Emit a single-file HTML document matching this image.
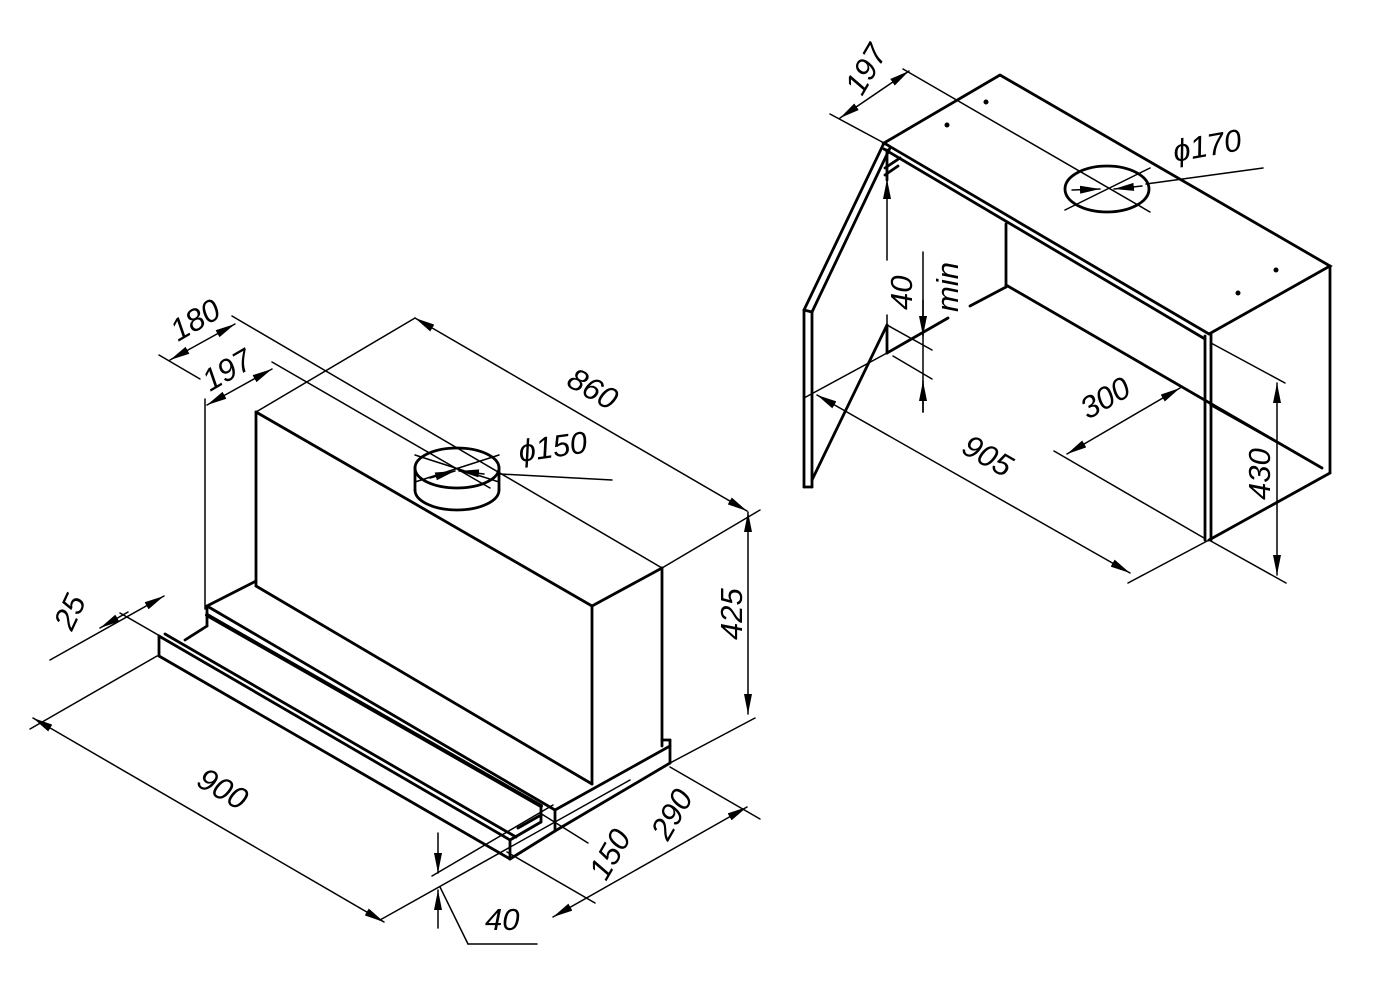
<!DOCTYPE html>
<html><head><meta charset="utf-8"><style>
html,body{margin:0;padding:0;background:#fff;}
svg{display:block;}
text{font-family:"Liberation Sans",sans-serif;font-size:31px;fill:#000;font-style:italic;}
</style></head><body>
<svg width="1400" height="990" viewBox="0 0 1400 990" xmlns="http://www.w3.org/2000/svg">
<defs>
<marker id="a" viewBox="0 0 20 8" refX="20" refY="4" markerWidth="20" markerHeight="8" orient="auto-start-reverse" markerUnits="userSpaceOnUse"><path d="M0,0 L20,4 L0,8 Z" fill="#000"/></marker>
</defs>
<g stroke="#000" fill="none" stroke-linecap="round">
<g stroke-width="2.8">
<line x1="256" y1="412" x2="592" y2="606"/>
<line x1="256" y1="412" x2="256" y2="586"/>
<line x1="592" y1="606" x2="592" y2="784"/>
<line x1="592" y1="606" x2="662" y2="568"/>
<line x1="662" y1="568" x2="662" y2="746"/>
<line x1="256" y1="586" x2="592" y2="784"/>
<line x1="207" y1="606" x2="256" y2="581"/>
<line x1="207" y1="606" x2="555" y2="810"/>
<line x1="207" y1="606" x2="207" y2="626"/>
<line x1="555" y1="810" x2="670" y2="746"/>
<line x1="662" y1="740" x2="670" y2="740"/>
<line x1="670" y1="740" x2="670" y2="763"/>
<line x1="555" y1="810" x2="555" y2="831"/>
<line x1="555" y1="831" x2="670" y2="763"/>
<line x1="207" y1="615" x2="541" y2="806" stroke-width="4"/>
<line x1="207" y1="626" x2="185" y2="640"/>
<line x1="159" y1="636" x2="510" y2="840"/>
<line x1="165" y1="634" x2="516" y2="837"/>
<line x1="159" y1="656" x2="510" y2="859"/>
<line x1="159" y1="636" x2="159" y2="656"/>
<line x1="510" y1="840" x2="510" y2="859"/>
<line x1="510" y1="840" x2="541" y2="822"/>
<line x1="541" y1="806" x2="541" y2="822"/>
<line x1="518" y1="828" x2="541" y2="815"/>
<line x1="510" y1="859" x2="555" y2="831"/>
<ellipse cx="457" cy="468" rx="42" ry="20"/>
<line x1="415" y1="468" x2="415" y2="490"/>
<line x1="499" y1="468" x2="499" y2="490"/>
<path d="M415,490 A42,20 0 0 0 499,490"/>
</g>
<g stroke-width="1.5">
<line x1="232" y1="316" x2="662" y2="568"/>
<line x1="256" y1="412" x2="415" y2="318"/>
<line x1="272" y1="362" x2="490" y2="488"/>
<line x1="159" y1="355" x2="200" y2="379"/>
<line x1="205" y1="399" x2="205" y2="609"/>
<line x1="662" y1="568" x2="760" y2="510"/>
<line x1="670" y1="763" x2="755" y2="718"/>
<line x1="415" y1="455" x2="499" y2="482"/>
<line x1="415" y1="482" x2="499" y2="455"/>
<line x1="500" y1="474" x2="612" y2="480"/>
<line x1="120" y1="613" x2="160" y2="636"/>
<line x1="30" y1="729" x2="157" y2="656"/>
<line x1="380" y1="920" x2="630" y2="780"/>
<line x1="432" y1="876" x2="553" y2="805"/>
<line x1="507" y1="852" x2="595" y2="903"/>
<line x1="540" y1="813" x2="588" y2="843"/>
<line x1="670" y1="767" x2="760" y2="819"/>
<line x1="440" y1="887" x2="468" y2="944"/>
<line x1="468" y1="944" x2="537" y2="944"/>
<line x1="170" y1="360" x2="235" y2="324" marker-start="url(#a)" marker-end="url(#a)"/>
<line x1="207" y1="405" x2="272" y2="369" marker-start="url(#a)" marker-end="url(#a)"/>
<line x1="415" y1="318" x2="747" y2="511" marker-start="url(#a)" marker-end="url(#a)"/>
<line x1="748" y1="512" x2="748" y2="714" marker-start="url(#a)" marker-end="url(#a)"/>
<line x1="50" y1="660" x2="164" y2="596" marker-end="url(#a)"/>
<line x1="128" y1="612" x2="100" y2="628" marker-end="url(#a)"/>
<line x1="33" y1="718" x2="384" y2="922" marker-start="url(#a)" marker-end="url(#a)"/>
<line x1="553" y1="917" x2="747" y2="807" marker-start="url(#a)" marker-end="url(#a)"/>
<line x1="438" y1="833" x2="438" y2="873" marker-end="url(#a)"/>
<line x1="438" y1="928" x2="438" y2="890" marker-end="url(#a)"/>
<line x1="430" y1="478" x2="455" y2="471" marker-end="url(#a)"/>
<line x1="484" y1="474" x2="459" y2="471" marker-end="url(#a)"/>
</g>

<g stroke-width="2.8">
<polygon points="884,143 1000,75 1330,266 1209,334"/>
<line x1="884" y1="149" x2="1205" y2="339"/>
<line x1="1330" y1="266" x2="1330" y2="473"/>
<line x1="1205" y1="336" x2="1205" y2="540"/>
<line x1="1211" y1="334" x2="1211" y2="540"/>
<line x1="1209" y1="540" x2="1330" y2="473"/>
<line x1="1006" y1="224" x2="1006" y2="287"/>
<line x1="1006" y1="285" x2="1322" y2="468"/>
<line x1="1006" y1="287" x2="970" y2="306"/>
<line x1="948" y1="318" x2="887" y2="353"/>
<line x1="887" y1="325" x2="887" y2="353"/>
<line x1="887" y1="325" x2="812" y2="480"/>
<line x1="884" y1="143" x2="804" y2="310"/>
<line x1="890" y1="148" x2="812" y2="312"/>
<line x1="804" y1="310" x2="812" y2="312"/>
<line x1="804" y1="310" x2="804" y2="487"/>
<line x1="812" y1="312" x2="812" y2="487"/>
<line x1="804" y1="487" x2="812" y2="487"/>
<line x1="887" y1="150" x2="887" y2="180"/>
<path d="M885,168 L900,158 M885,175 L898,166"/>
<ellipse cx="1107" cy="189" rx="42" ry="23"/>
</g>
<g fill="#000" stroke="none">
<circle cx="986" cy="102" r="2.5"/><circle cx="947" cy="125" r="2.5"/>
<circle cx="1276" cy="270" r="2.5"/><circle cx="1238" cy="293" r="2.5"/>
</g>
<g stroke-width="1.5">
<line x1="830" y1="114" x2="884" y2="143"/>
<line x1="903" y1="69" x2="1150" y2="212"/>
<line x1="1065" y1="210" x2="1150" y2="168"/>
<line x1="1146" y1="184" x2="1263" y2="168"/>
<line x1="887" y1="353" x2="804" y2="398"/>
<line x1="1209" y1="540" x2="1128" y2="583"/>
<line x1="1054" y1="451" x2="1204" y2="538"/>
<line x1="1211" y1="343" x2="1285" y2="383"/>
<line x1="1322" y1="468" x2="1210" y2="405"/>
<line x1="1209" y1="540" x2="1286" y2="583"/>
<line x1="887" y1="325" x2="932" y2="350"/>
<line x1="893" y1="356" x2="932" y2="379"/>
<line x1="923" y1="252" x2="923" y2="412"/>
<line x1="923" y1="300" x2="923" y2="336" marker-end="url(#a)"/>
<line x1="923" y1="412" x2="923" y2="381" marker-end="url(#a)"/>
<line x1="887" y1="260" x2="887" y2="179" marker-end="url(#a)"/>
<line x1="887" y1="315" x2="887" y2="325"/>
<line x1="840" y1="118" x2="909" y2="71" marker-start="url(#a)" marker-end="url(#a)"/>
<line x1="817" y1="395" x2="1130" y2="573" marker-start="url(#a)" marker-end="url(#a)"/>
<line x1="1067" y1="454" x2="1180" y2="388" marker-start="url(#a)" marker-end="url(#a)"/>
<line x1="1277" y1="383" x2="1277" y2="575" marker-start="url(#a)" marker-end="url(#a)"/>
<line x1="1072" y1="190" x2="1100" y2="189" marker-end="url(#a)"/>
<line x1="1142" y1="186" x2="1114" y2="189" marker-end="url(#a)"/>
</g>
</g>

<text transform="translate(178,342) rotate(-30)">180</text>
<text transform="translate(210,392) rotate(-30)">197</text>
<text transform="translate(565,385) rotate(30)">860</text>
<text transform="translate(520,462) rotate(-8)">ϕ150</text>
<text transform="translate(742,640) rotate(-90)">425</text>
<text transform="translate(72,632) rotate(-65)">25</text>
<text transform="translate(195,785) rotate(30)">900</text>
<text transform="translate(668,842) rotate(-60)">290</text>
<text transform="translate(606,882) rotate(-60)">150</text>
<text x="485" y="930">40</text>
<text transform="translate(862,97) rotate(-60)">197</text>
<text transform="translate(1175,162) rotate(-10)">ϕ170</text>
<text transform="translate(912,310) rotate(-90)">40</text>
<text transform="translate(958,312) rotate(-90)">min</text>
<text transform="translate(1088,420) rotate(-30)">300</text>
<text transform="translate(960,452) rotate(30)">905</text>
<text transform="translate(1270,500) rotate(-90)">430</text>
</svg>
</body></html>
